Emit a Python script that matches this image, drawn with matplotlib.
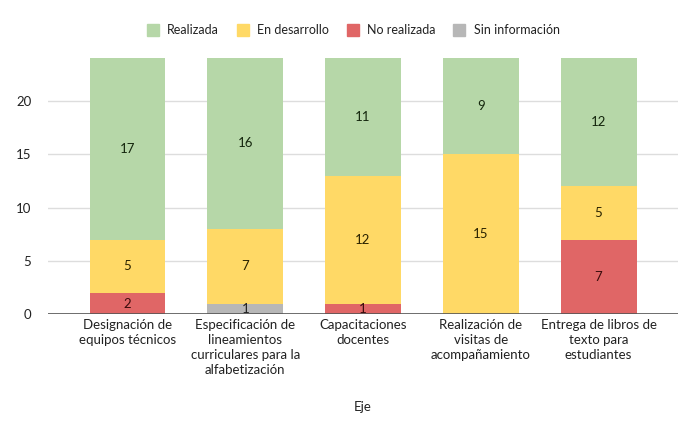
import matplotlib
matplotlib.use("Agg")
from matplotlib import pyplot as plt
from matplotlib.lines import Line2D
import numpy as np

plt.rcParams['font.family'] = ['Lato', 'DejaVu Sans']

# categorias del eje x
ejes = ["Designación de\nequipos técnicos",
        "Especificación de\nlineamientos\ncurriculares para la\nalfabetización",
        "Capacitaciones\ndocentes",
        "Realización de\nvisitas de\nacompañamiento",
        "Entrega de libros de\ntexto para\nestudiantes"]

# series (de abajo hacia arriba)
sin_info = [0, 1, 0, 0, 0]
no_realizada = [2, 0, 1, 0, 7]
en_desarrollo = [5, 7, 12, 15, 5]
realizada = [17, 16, 11, 9, 12]

series = [("Sin información", sin_info, "#b7b7b7", "#222222"),
          ("No realizada", no_realizada, "#e06666", "#3a0c0c"),
          ("En desarrollo", en_desarrollo, "#ffd966", "#2a2200"),
          ("Realizada", realizada, "#b6d7a8", "#14260d")]

fig = plt.figure(figsize=(7, 4.33), dpi=100)
ax = fig.add_axes([0.0686, 0.274, 0.9, 0.592])

x = np.arange(len(ejes))
base = np.zeros(len(ejes))
for nom, vals, col, tcol in series:
    vals = np.array(vals)
    ax.bar(x, vals, 0.645, bottom=base, color=col, zorder=3)
    for i, v in enumerate(vals):
        if v > 0:
            ax.text(x[i], base[i] + v / 2, str(v), ha='center', va='center',
                    fontsize=9.5, color=tcol, zorder=4)
    base = base + vals

ax.set_xlim(-0.675, 4.675)
ax.set_ylim(0, 24)
ax.set_yticks([0, 5, 10, 15, 20])
ax.yaxis.grid(True, color='#dddddd', linewidth=1, zorder=0)
ax.axhline(0, color='#555555', linewidth=1.2, zorder=5)
for s in ax.spines.values():
    s.set_visible(False)
ax.tick_params(axis='both', length=0, labelsize=9.5, colors='#222222')
ax.tick_params(axis='y', pad=12)
ax.set_xticks(x)
ax.set_xticklabels(ejes, linespacing=1.3)
ax.set_xlabel("Eje", fontsize=9.5, color='#222222', labelpad=18)

handles = [Line2D([], [], marker='s', linestyle='', markersize=8.5, color=c)
           for _, _, c, _ in series[::-1]]
labels = [n for n, _, _, _ in series[::-1]]
fig.legend(handles, labels, loc='center', bbox_to_anchor=(0.5, 0.93), ncol=4,
           frameon=False, fontsize=9, handletextpad=0.15, columnspacing=0.9,
           labelcolor='#222222')

fig.savefig("out.png", dpi=100)
